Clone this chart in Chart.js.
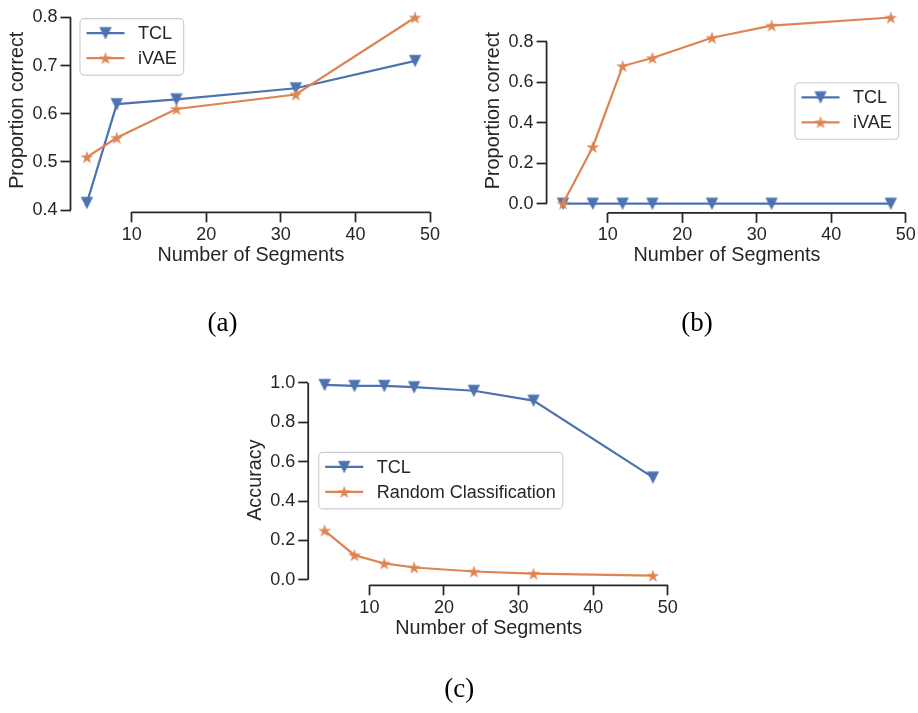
<!DOCTYPE html>
<html>
<head>
<meta charset="utf-8">
<script src="https://cdn.jsdelivr.net/npm/chart.js@4.4.0/dist/chart.umd.min.js"></script>
<style>
html,body{margin:0;padding:0;background:#ffffff;}
#wrap{position:relative;width:918px;height:713px;overflow:hidden;background:#ffffff;}
canvas.plot{position:absolute;left:0;top:0;width:918px;height:713px;}
.cap{position:absolute;width:100px;text-align:center;font-family:"Liberation Serif","DejaVu Serif",serif;font-size:27px;line-height:27px;color:#000;}
</style>
</head>
<body>
<div id="wrap">
  <canvas id="chartA" class="plot" width="918" height="713"></canvas>
  <canvas id="chartB" class="plot" width="918" height="713"></canvas>
  <canvas id="chartC" class="plot" width="918" height="713"></canvas>
  <div class="cap" style="left:172.5px;top:308.7px">(a)</div>
  <div class="cap" style="left:647px;top:308.7px">(b)</div>
  <div class="cap" style="left:409.2px;top:675px">(c)</div>
</div>
<script>
// ---------------- data ----------------
const segmentsA = [4, 8, 16, 32, 48];
const tclA = [0.415, 0.62, 0.63, 0.653, 0.71];
const ivaeA = [0.51, 0.55, 0.61, 0.64, 0.80];

const segmentsB = [4, 8, 12, 16, 24, 32, 48];
const tclB = [0.0, 0.0, 0.0, 0.0, 0.0, 0.0, 0.0];
const ivaeB = [0.0, 0.28, 0.68, 0.72, 0.82, 0.88, 0.92];

const segmentsC = [4, 8, 12, 16, 24, 32, 48];
const tclC = [0.99, 0.985, 0.985, 0.978, 0.96, 0.91, 0.52];
const randomC = [0.25, 0.125, 0.083, 0.0625, 0.042, 0.031, 0.021];

const xTicks = [10, 20, 30, 40, 50];
const yTicksA = [0.4, 0.5, 0.6, 0.7, 0.8];
const yTicksB = [0.0, 0.2, 0.4, 0.6, 0.8];
const yTicksC = [0.0, 0.2, 0.4, 0.6, 0.8, 1.0];

const seriesNamesAB = ['TCL', 'iVAE'];
const seriesNamesC = ['TCL', 'Random Classification'];
const xTitle = 'Number of Segments';
const yTitleAB = 'Proportion correct';
const yTitleC = 'Accuracy';

// ---------------- styles ----------------
const INK = '#262626';
const BLUE = '#4C72B0';
const ORANGE = '#DD8452';
const FONT = '"Liberation Sans", Arial, sans-serif';
const WY = 65;   // y-axis box width
const HX = 55;   // x-axis box height
const PAGE_W = 918, PAGE_H = 713;

function makeTriangle(color) {
  const c = document.createElement('canvas');
  c.width = 16; c.height = 16;
  const g = c.getContext('2d');
  const s = 11.5, m = 8;
  g.fillStyle = color; g.strokeStyle = color; g.lineWidth = 0.6; g.lineJoin = 'miter';
  g.beginPath();
  g.moveTo(m - s / 2, m - s / 2);
  g.lineTo(m + s / 2, m - s / 2);
  g.lineTo(m, m + s / 2);
  g.closePath();
  g.fill(); g.stroke();
  return c;
}
function makeStar(color) {
  const c = document.createElement('canvas');
  c.width = 16; c.height = 16;
  const g = c.getContext('2d');
  const R = 6.0, r = R * 0.381966, m = 8;
  g.fillStyle = color; g.strokeStyle = color; g.lineWidth = 0.5;
  g.beginPath();
  for (let i = 0; i < 10; i++) {
    const rad = (i % 2 === 0) ? R : r;
    const a = -Math.PI / 2 + i * Math.PI / 5;
    const px = m + rad * Math.cos(a), py = m + 0.6 + rad * Math.sin(a);
    if (i === 0) g.moveTo(px, py); else g.lineTo(px, py);
  }
  g.closePath();
  g.fill(); g.stroke();
  return c;
}
const triMarker = makeTriangle(BLUE);
const starMarker = makeStar(ORANGE);

// trimmed spines (seaborn despine(trim=True) look)
const spinePlugin = {
  id: 'trimSpines',
  afterDatasetsDraw(chart, args, opts) {
    const {ctx, chartArea, scales} = chart;
    const xt = scales.x.ticks, yt = scales.y.ticks;
    ctx.save();
    ctx.strokeStyle = INK;
    ctx.lineWidth = 1.75;
    ctx.lineCap = 'butt';
    ctx.beginPath();
    ctx.moveTo(chartArea.left, scales.y.getPixelForValue(yt[0].value));
    ctx.lineTo(chartArea.left, scales.y.getPixelForValue(yt[yt.length - 1].value));
    ctx.moveTo(scales.x.getPixelForValue(xt[0].value), chartArea.bottom);
    ctx.lineTo(scales.x.getPixelForValue(xt[xt.length - 1].value), chartArea.bottom);
    ctx.stroke();
    ctx.restore();
  }
};

// matplotlib-like framed legend with line + marker handles
const frameLegendPlugin = {
  id: 'frameLegend',
  afterDraw(chart, args, opts) {
    const {ctx, chartArea: ca} = chart;
    const ds = chart.data.datasets;
    ctx.save();
    ctx.font = '18px ' + FONT;
    const textW = Math.max(...ds.map(d => ctx.measureText(d.label).width));
    const pad = 7, handle = 38, gap = 13.5, padR = 6.5;
    const w = pad + handle + gap + textW + padR;
    const h = 56.5;
    let x0, y0;
    if (opts.loc === 'upper left') { x0 = ca.left + 9; y0 = ca.top + 9.9; }
    else if (opts.loc === 'center right') { x0 = ca.right - 9 - w; y0 = (ca.top + ca.bottom) / 2 - h / 2; }
    else { x0 = ca.left + 10; y0 = (ca.top + ca.bottom) / 2 - h / 2; }
    ctx.beginPath();
    ctx.roundRect(x0 + 0.5, y0 + 0.5, w, h, 4);
    ctx.fillStyle = 'rgba(255,255,255,0.8)';
    ctx.fill();
    ctx.strokeStyle = '#cccccc';
    ctx.lineWidth = 1.1;
    ctx.stroke();
    ds.forEach((d, i) => {
      const y = y0 + 15 + i * 25;
      const lx = x0 + pad;
      ctx.strokeStyle = d.borderColor;
      ctx.lineWidth = d.borderWidth;
      ctx.beginPath();
      ctx.moveTo(lx, y);
      ctx.lineTo(lx + handle, y);
      ctx.stroke();
      const mk = d.pointStyle;
      ctx.drawImage(mk, lx + handle / 2 - mk.width / 2, y - mk.height / 2);
      ctx.fillStyle = INK;
      ctx.textAlign = 'left';
      ctx.textBaseline = 'middle';
      ctx.fillText(d.label, lx + handle + gap, y + 1);
    });
    ctx.restore();
  }
};

function makeChart(id, cfg) {
  const area = cfg.area;
  const datasets = cfg.series.map((s, i) => ({
    label: s.name,
    data: cfg.xs.map((x, j) => ({x: x, y: s.values[j]})),
    borderColor: s.color,
    backgroundColor: s.color,
    borderWidth: 2.2,
    pointStyle: s.marker,
    pointRadius: 6,
    pointHoverRadius: 6,
    tension: 0,
    clip: false,
    order: cfg.series.length - i
  }));
  const zeroPad = (s) => { s.paddingLeft = 0; s.paddingRight = 0; s.paddingTop = 0; s.paddingBottom = 0; };
  return new Chart(document.getElementById(id), {
    type: 'line',
    data: {datasets},
    plugins: [spinePlugin, frameLegendPlugin],
    options: {
      responsive: false,
      animation: false,
      devicePixelRatio: 1,
      events: [],
      layout: {
        padding: {
          left: area.left - WY,
          top: area.top,
          right: PAGE_W - area.right,
          bottom: PAGE_H - area.bottom - HX
        }
      },
      plugins: {
        legend: {display: false},
        tooltip: {enabled: false},
        title: {display: false},
        frameLegend: {loc: cfg.legendLoc}
      },
      scales: {
        x: {
          type: 'linear',
          bounds: 'data',
          min: cfg.xRange[0], max: cfg.xRange[1],
          afterBuildTicks: (s) => { s.ticks = xTicks.map(v => ({value: v})); },
          afterFit: (s) => { s.height = HX; zeroPad(s); },
          grid: {display: true, drawOnChartArea: false, drawTicks: true, tickLength: 10, tickWidth: 1.75, tickColor: INK},
          border: {display: false},
          ticks: {color: INK, font: {family: FONT, size: 18}, padding: 1.5, maxRotation: 0, autoSkip: false,
                  callback: (v) => String(v)},
          title: {display: true, text: xTitle, color: INK, font: {family: FONT, size: 19.8}, padding: {top: 0, bottom: 0}}
        },
        y: {
          type: 'linear',
          bounds: 'data',
          min: cfg.yRange[0], max: cfg.yRange[1],
          afterBuildTicks: (s) => { s.ticks = cfg.yTicks.map(v => ({value: v})); },
          afterFit: (s) => { s.width = WY; zeroPad(s); },
          grid: {display: true, drawOnChartArea: false, drawTicks: true, tickLength: 10, tickWidth: 1.75, tickColor: INK},
          border: {display: false},
          ticks: {color: INK, font: {family: FONT, size: 18}, padding: 3, autoSkip: false,
                  callback: (v) => Number(v).toFixed(1)},
          title: {display: true, text: cfg.yTitle, color: INK, font: {family: FONT, size: 19.8}, padding: {top: 0, bottom: 0}}
        }
      }
    }
  });
}

makeChart('chartA', {
  xs: segmentsA,
  series: [
    {name: seriesNamesAB[0], values: tclA, color: BLUE, marker: triMarker},
    {name: seriesNamesAB[1], values: ivaeA, color: ORANGE, marker: starMarker}
  ],
  yTicks: yTicksA, yTitle: yTitleAB,
  xRange: [1.8, 50.2], yRange: [0.3953, 0.8193],
  area: {left: 70.5, right: 431.5, top: 2.4, bottom: 212.3},
  legendLoc: 'upper left'
});
makeChart('chartB', {
  xs: segmentsB,
  series: [
    {name: seriesNamesAB[0], values: tclB, color: BLUE, marker: triMarker},
    {name: seriesNamesAB[1], values: ivaeB, color: ORANGE, marker: starMarker}
  ],
  yTicks: yTicksB, yTitle: yTitleAB,
  xRange: [1.8, 50.2], yRange: [-0.046, 0.966],
  area: {left: 546.6, right: 907.2, top: 2.8, bottom: 212.9},
  legendLoc: 'center right'
});
makeChart('chartC', {
  xs: segmentsC,
  series: [
    {name: seriesNamesC[0], values: tclC, color: BLUE, marker: triMarker},
    {name: seriesNamesC[1], values: randomC, color: ORANGE, marker: starMarker}
  ],
  yTicks: yTicksC, yTitle: yTitleC,
  xRange: [1.8, 50.2], yRange: [-0.028, 1.04],
  area: {left: 308.2, right: 669.3, top: 375.0, bottom: 585.3},
  legendLoc: 'center left'
});
</script>
</body>
</html>
